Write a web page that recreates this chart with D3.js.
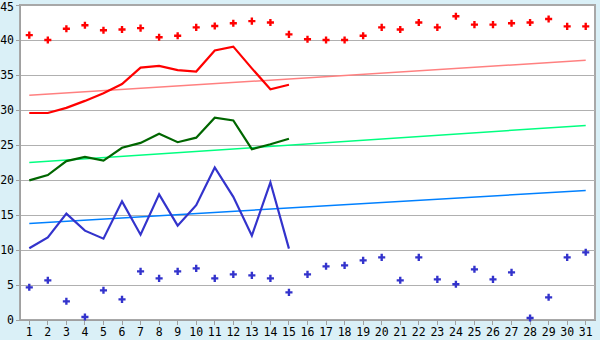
<!DOCTYPE html>
<html>
<head>
<meta charset="utf-8">
<script src="https://cdn.jsdelivr.net/npm/d3@7/dist/d3.min.js"></script>
<style>
  body { margin: 0; background: #daf0f7; }
  svg { display: block; }
  .axis text { font-family: "DejaVu Sans Mono", monospace; font-size: 11.5px; fill: #000; }
  .axis path, .axis line { stroke: #a0a0a0; shape-rendering: crispEdges; }
  .grid line { stroke: #b0b0b0; shape-rendering: crispEdges; }
</style>
</head>
<body>
<script>
var days = d3.range(1, 32);
var yTicks = [0, 5, 10, 15, 20, 25, 30, 35, 40, 45];

// daily points
var highPts = [40.7, 40.0, 41.6, 42.1, 41.4, 41.5, 41.7, 40.4, 40.6, 41.8,
               42.0, 42.4, 42.7, 42.5, 40.8, 40.1, 40.0, 40.0, 40.6, 41.8,
               41.5, 42.5, 41.8, 43.4, 42.2, 42.2, 42.4, 42.5, 43.0, 41.95, 41.95];
var lowPts = [4.67, 5.67, 2.67, 0.43, 4.24, 2.95, 6.95, 5.95, 6.95, 7.38,
              5.95, 6.52, 6.38, 5.95, 3.95, 6.52, 7.67, 7.81, 8.52, 8.95,
              5.67, 8.95, 5.81, 5.1, 7.24, 5.81, 6.81, 0.29, 3.24, 8.95, 9.67];

// lines for days 1-15
var redLine = [29.57, 29.57, 30.3, 31.3, 32.4, 33.7, 36.05, 36.3, 35.7, 35.5,
               38.5, 39.05, 35.95, 32.95, 33.6];
var greenLine = [19.95, 20.7, 22.7, 23.3, 22.76, 24.6, 25.3, 26.6, 25.4, 26.05,
                 28.9, 28.5, 24.4, 25.1, 25.9];
var blueLine = [10.24, 11.81, 15.19, 12.76, 11.62, 16.95, 12.19, 17.95, 13.48, 16.4,
                21.8, 17.6, 12.05, 19.67, 10.19];

// trend lines: value at day 1 and at day 31
var redTrend = [32.1, 37.1];
var greenTrend = [22.5, 27.8];
var blueTrend = [13.8, 18.5];

var width = 600, height = 340;
var mLeft = 20, mRight = 595, mTop = 5, mBottom = 320;

var svg = d3.select("body").append("svg")
  .attr("width", width)
  .attr("height", height);

var x = d3.scaleBand().domain(days).range([mLeft, mRight]);
var y = d3.scaleLinear().domain([0, 45]).range([mBottom, mTop]);
var cx = function(d) { return x(d) + x.bandwidth() / 2; };

svg.append("rect")
  .attr("x", mLeft).attr("y", mTop)
  .attr("width", mRight - mLeft).attr("height", mBottom - mTop)
  .attr("fill", "#fff")
  .attr("stroke", "#a8a8a8")
  .attr("stroke-width", 2);

svg.append("g").attr("class", "grid")
  .selectAll("line")
  .data(yTicks.filter(function(d) { return d > 0 && d < 45; }))
  .enter().append("line")
  .attr("x1", mLeft).attr("x2", mRight)
  .attr("y1", function(d) { return Math.round(y(d)) + 0.5; })
  .attr("y2", function(d) { return Math.round(y(d)) + 0.5; });

svg.append("g").attr("class", "axis")
  .attr("transform", "translate(0," + mBottom + ")")
  .call(d3.axisBottom(x).tickSize(5).tickSizeOuter(0).tickPadding(3));

var yAxisG = svg.append("g").attr("class", "axis")
  .attr("transform", "translate(" + mLeft + ",0)")
  .call(d3.axisLeft(y).tickValues(yTicks).tickSize(4).tickSizeOuter(0).tickPadding(2));
// keep the top label inside the window
yAxisG.selectAll(".tick text").filter(function(d) { return d === 45; }).attr("dy", "0.5em");

// trend lines
function trend(vals, color) {
  svg.append("line")
    .attr("x1", cx(1)).attr("y1", y(vals[0]))
    .attr("x2", cx(31)).attr("y2", y(vals[1]))
    .attr("stroke", color)
    .attr("stroke-width", 1.5);
}
trend(redTrend, "#ff8080");
trend(greenTrend, "#00ff80");
trend(blueTrend, "#0080ff");

// series lines
var line = d3.line()
  .x(function(d, i) { return cx(days[i]); })
  .y(function(d) { return y(d); });

function drawLine(vals, color) {
  svg.append("path")
    .datum(vals)
    .attr("d", line)
    .attr("fill", "none")
    .attr("stroke", color)
    .attr("stroke-width", 2.2);
}
drawLine(redLine, "#ff0000");
drawLine(greenLine, "#006600");
drawLine(blueLine, "#3333cc");

// point markers (small crosses)
var cross = d3.symbol().type(d3.symbolCross).size(28);
function drawPts(vals, color) {
  svg.append("g").selectAll("path")
    .data(vals)
    .enter().append("path")
    .attr("d", cross)
    .attr("transform", function(d, i) { return "translate(" + cx(days[i]) + "," + y(d) + ")"; })
    .attr("fill", color);
}
drawPts(highPts, "#ff0000");
drawPts(lowPts, "#3333cc");
</script>
</body>
</html>
